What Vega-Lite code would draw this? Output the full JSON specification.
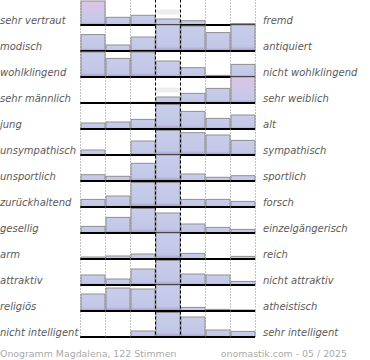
{
  "$schema": "https://vega.github.io/schema/vega-lite/v6.json",
  "padding": {"left": 0, "top": -1, "right": 0, "bottom": 0},
  "background": "white",
  "config": {"view": {"stroke": null}, "font": "DejaVu Sans", "concat": {"spacing": 10}},
  "vconcat": [
    {
      "data": {"values": [
        {"i":1,"l":"sehr vertraut","r":"fremd","c":1,"v":24,"h":true},
        {"i":1,"l":"sehr vertraut","r":"fremd","c":2,"v":7.7},
        {"i":1,"l":"sehr vertraut","r":"fremd","c":3,"v":9.7},
        {"i":1,"l":"sehr vertraut","r":"fremd","c":4,"v":6},
        {"i":1,"l":"sehr vertraut","r":"fremd","c":5,"v":4.3},
        {"i":1,"l":"sehr vertraut","r":"fremd","c":6,"v":0.5},
        {"i":1,"l":"sehr vertraut","r":"fremd","c":7,"v":1.5},
        {"i":2,"l":"modisch","r":"antiquiert","c":1,"v":16.4},
        {"i":2,"l":"modisch","r":"antiquiert","c":2,"v":6},
        {"i":2,"l":"modisch","r":"antiquiert","c":3,"v":14},
        {"i":2,"l":"modisch","r":"antiquiert","c":4,"v":26},
        {"i":2,"l":"modisch","r":"antiquiert","c":5,"v":25},
        {"i":2,"l":"modisch","r":"antiquiert","c":6,"v":18.4},
        {"i":2,"l":"modisch","r":"antiquiert","c":7,"v":26},
        {"i":3,"l":"wohlklingend","r":"nicht wohlklingend","c":1,"v":25},
        {"i":3,"l":"wohlklingend","r":"nicht wohlklingend","c":2,"v":18.6},
        {"i":3,"l":"wohlklingend","r":"nicht wohlklingend","c":3,"v":25},
        {"i":3,"l":"wohlklingend","r":"nicht wohlklingend","c":4,"v":16},
        {"i":3,"l":"wohlklingend","r":"nicht wohlklingend","c":5,"v":9.3},
        {"i":3,"l":"wohlklingend","r":"nicht wohlklingend","c":6,"v":1.6},
        {"i":3,"l":"wohlklingend","r":"nicht wohlklingend","c":7,"v":12.6},
        {"i":4,"l":"sehr männlich","r":"sehr weiblich","c":1,"v":0},
        {"i":4,"l":"sehr männlich","r":"sehr weiblich","c":2,"v":0},
        {"i":4,"l":"sehr männlich","r":"sehr weiblich","c":3,"v":0.6},
        {"i":4,"l":"sehr männlich","r":"sehr weiblich","c":4,"v":6},
        {"i":4,"l":"sehr männlich","r":"sehr weiblich","c":5,"v":9.6},
        {"i":4,"l":"sehr männlich","r":"sehr weiblich","c":6,"v":14.6},
        {"i":4,"l":"sehr männlich","r":"sehr weiblich","c":7,"v":26,"h":true},
        {"i":5,"l":"\u00a0jung","r":"alt","c":1,"v":6},
        {"i":5,"l":"\u00a0jung","r":"alt","c":2,"v":7},
        {"i":5,"l":"\u00a0jung","r":"alt","c":3,"v":9.6},
        {"i":5,"l":"\u00a0jung","r":"alt","c":4,"v":24.5},
        {"i":5,"l":"\u00a0jung","r":"alt","c":5,"v":17.6},
        {"i":5,"l":"\u00a0jung","r":"alt","c":6,"v":10.6},
        {"i":5,"l":"\u00a0jung","r":"alt","c":7,"v":14},
        {"i":6,"l":"unsympathisch","r":"sympathisch","c":1,"v":5},
        {"i":6,"l":"unsympathisch","r":"sympathisch","c":2,"v":0.4},
        {"i":6,"l":"unsympathisch","r":"sympathisch","c":3,"v":14},
        {"i":6,"l":"unsympathisch","r":"sympathisch","c":4,"v":24.5},
        {"i":6,"l":"unsympathisch","r":"sympathisch","c":5,"v":22.3},
        {"i":6,"l":"unsympathisch","r":"sympathisch","c":6,"v":20},
        {"i":6,"l":"unsympathisch","r":"sympathisch","c":7,"v":14.6},
        {"i":7,"l":"unsportlich","r":"sportlich","c":1,"v":6.3},
        {"i":7,"l":"unsportlich","r":"sportlich","c":2,"v":4.7},
        {"i":7,"l":"unsportlich","r":"sportlich","c":3,"v":17.7},
        {"i":7,"l":"unsportlich","r":"sportlich","c":4,"v":26},
        {"i":7,"l":"unsportlich","r":"sportlich","c":5,"v":7},
        {"i":7,"l":"unsportlich","r":"sportlich","c":6,"v":3.7},
        {"i":7,"l":"unsportlich","r":"sportlich","c":7,"v":5.3},
        {"i":8,"l":"zurückhaltend","r":"forsch","c":1,"v":7.6},
        {"i":8,"l":"zurückhaltend","r":"forsch","c":2,"v":11},
        {"i":8,"l":"zurückhaltend","r":"forsch","c":3,"v":24.5},
        {"i":8,"l":"zurückhaltend","r":"forsch","c":4,"v":24.5},
        {"i":8,"l":"zurückhaltend","r":"forsch","c":5,"v":7.6},
        {"i":8,"l":"zurückhaltend","r":"forsch","c":6,"v":7.6},
        {"i":8,"l":"zurückhaltend","r":"forsch","c":7,"v":5.6},
        {"i":9,"l":"gesellig","r":"einzelgängerisch","c":1,"v":6.6},
        {"i":9,"l":"gesellig","r":"einzelgängerisch","c":2,"v":15.6},
        {"i":9,"l":"gesellig","r":"einzelgängerisch","c":3,"v":24.5},
        {"i":9,"l":"gesellig","r":"einzelgängerisch","c":4,"v":20},
        {"i":9,"l":"gesellig","r":"einzelgängerisch","c":5,"v":9},
        {"i":9,"l":"gesellig","r":"einzelgängerisch","c":6,"v":5.6},
        {"i":9,"l":"gesellig","r":"einzelgängerisch","c":7,"v":3.6},
        {"i":10,"l":"arm","r":"reich","c":1,"v":2},
        {"i":10,"l":"arm","r":"reich","c":2,"v":3},
        {"i":10,"l":"arm","r":"reich","c":3,"v":5},
        {"i":10,"l":"arm","r":"reich","c":4,"v":26},
        {"i":10,"l":"arm","r":"reich","c":5,"v":5.6},
        {"i":10,"l":"arm","r":"reich","c":6,"v":0.5},
        {"i":10,"l":"arm","r":"reich","c":7,"v":2.6},
        {"i":11,"l":"attraktiv","r":"nicht attraktiv","c":1,"v":10},
        {"i":11,"l":"attraktiv","r":"nicht attraktiv","c":2,"v":6},
        {"i":11,"l":"attraktiv","r":"nicht attraktiv","c":3,"v":16},
        {"i":11,"l":"attraktiv","r":"nicht attraktiv","c":4,"v":24.5},
        {"i":11,"l":"attraktiv","r":"nicht attraktiv","c":5,"v":11},
        {"i":11,"l":"attraktiv","r":"nicht attraktiv","c":6,"v":10},
        {"i":11,"l":"attraktiv","r":"nicht attraktiv","c":7,"v":3.6},
        {"i":12,"l":"religiös","r":"atheistisch","c":1,"v":17},
        {"i":12,"l":"religiös","r":"atheistisch","c":2,"v":23},
        {"i":12,"l":"religiös","r":"atheistisch","c":3,"v":22},
        {"i":12,"l":"religiös","r":"atheistisch","c":4,"v":26},
        {"i":12,"l":"religiös","r":"atheistisch","c":5,"v":3.6},
        {"i":12,"l":"religiös","r":"atheistisch","c":6,"v":1.6},
        {"i":12,"l":"religiös","r":"atheistisch","c":7,"v":1},
        {"i":13,"l":"nicht intelligent","r":"sehr intelligent","c":1,"v":0},
        {"i":13,"l":"nicht intelligent","r":"sehr intelligent","c":2,"v":0},
        {"i":13,"l":"nicht intelligent","r":"sehr intelligent","c":3,"v":6},
        {"i":13,"l":"nicht intelligent","r":"sehr intelligent","c":4,"v":24.5},
        {"i":13,"l":"nicht intelligent","r":"sehr intelligent","c":5,"v":20},
        {"i":13,"l":"nicht intelligent","r":"sehr intelligent","c":6,"v":7},
        {"i":13,"l":"nicht intelligent","r":"sehr intelligent","c":7,"v":5.6}
      ]},
      "bounds": "flush",
      "facet": {
        "row": {
          "field": "i", "type": "ordinal",
          "title": null,
          "header": {"labels": false, "title": null}
        }
      },
      "spacing": {"row": 0},
      "spec": {
        "width": 370,
        "height": 26,
        "layer": [
          {
            "transform": [{"filter": "datum.c == 4"}],
            "mark": {"type": "bar", "color": "#ededed"},
            "encoding": {
              "x": {"datum": 4, "type": "quantitative"},
              "x2": {"datum": 5}
            }
          },
          {
            "mark": {"type": "bar", "stroke": "#8f8f8f", "strokeWidth": 1},
            "encoding": {
              "x": {
                "field": "c", "type": "quantitative",
                "bin": {"binned": true, "step": 1},
                "scale": {"domain": [-2.2, 12.6], "nice": false, "zero": false},
                "axis": {
                  "values": [1, 2, 3, 4, 5, 6, 7, 8],
                  "grid": true, "domain": false, "ticks": false, "labels": false, "title": null,
                  "gridColor": {"condition": {"test": "datum.value == 4 || datum.value == 5", "value": "#000000"}, "value": "#888888"},
                  "gridDash": {"condition": {"test": "datum.value == 4 || datum.value == 5", "value": [3, 2]}, "value": [1, 2]},
                  "gridWidth": 1,
                  "zindex": 1
                }
              },
              "y": {"field": "v", "type": "quantitative", "scale": {"domain": [0, 26], "nice": false}, "axis": null},
              "fill": {
                "condition": {"test": "datum.h", "value": {"gradient": "linear", "x1": 0, "y1": 0, "x2": 0, "y2": 1, "stops": [{"offset": 0, "color": "#dcc4e4"}, {"offset": 0.55, "color": "#cdc8e8"}, {"offset": 0.88, "color": "#c3c8e7"}, {"offset": 1, "color": "#a698ca"}]}},
                "value": {"gradient": "linear", "x1": 0, "y1": 0, "x2": 0, "y2": 1, "stops": [{"offset": 0, "color": "#c9cdeb"}, {"offset": 0.82, "color": "#c2c7e7"}, {"offset": 1, "color": "#a698ca"}]}
              }
            }
          },
          {
            "mark": {"type": "rule", "color": "#000000", "strokeWidth": 2},
            "encoding": {"x": {"datum": 1, "type": "quantitative"}, "x2": {"datum": 8}, "y": {"datum": 0, "type": "quantitative"}}
          },
          {
            "transform": [{"filter": "datum.c == 7"}],
            "mark": {"type": "text", "align": "left", "baseline": "alphabetic", "dx": 8, "font": "DejaVu Sans", "fontStyle": "italic", "fontSize": 10, "color": "#5a5a5a"},
            "encoding": {
              "x": {"datum": 8, "type": "quantitative"},
              "y": {"datum": 1, "type": "quantitative"},
              "text": {"field": "r"}
            }
          },
          {
            "transform": [{"filter": "datum.c == 1"}],
            "mark": {"type": "text", "align": "left", "baseline": "alphabetic", "font": "DejaVu Sans", "fontStyle": "italic", "fontSize": 10, "color": "#5a5a5a"},
            "encoding": {
              "x": {"datum": -2.2, "type": "quantitative"},
              "y": {"datum": 1, "type": "quantitative"},
              "text": {"field": "l"}
            }
          }
        ]
      }
    },
    {
      "width": 347,
      "height": 11,
      "layer": [
        {
          "data": {"values": [{"t": "Onogramm Magdalena, 122 Stimmen", "s": "a"}]},
          "mark": {"type": "text", "align": "left", "baseline": "alphabetic", "font": "DejaVu Sans", "fontSize": 9.4, "color": "#aaaaaa"},
          "encoding": {
            "x": {"field": "s", "type": "nominal", "scale": {"type": "point", "domain": ["a", "b"], "padding": 0}, "axis": null},
            "text": {"field": "t"}
          }
        },
        {
          "data": {"values": [{"t": "onomastik.com - 05 / 2025", "s": "b"}]},
          "mark": {"type": "text", "align": "right", "baseline": "alphabetic", "font": "DejaVu Sans", "fontSize": 9.4, "color": "#aaaaaa"},
          "encoding": {
            "x": {"field": "s", "type": "nominal", "scale": {"type": "point", "domain": ["a", "b"], "padding": 0}, "axis": null},
            "text": {"field": "t"}
          }
        }
      ]
    }
  ]
}
